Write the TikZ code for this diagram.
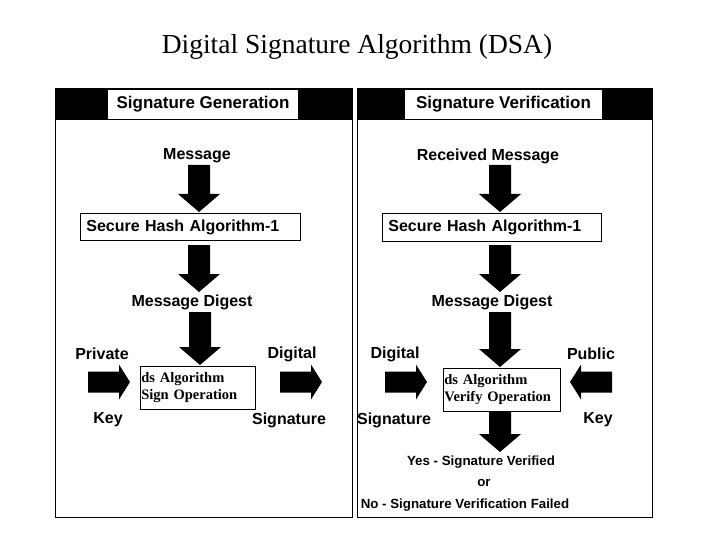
\documentclass[tikz,border=0pt]{standalone}
\usepackage{fontspec}
\setmainfont{Liberation Serif}
\newfontfamily\lab{Liberation Sans}
\begin{document}
\begin{tikzpicture}[x=1pt,y=-1pt,
  lbl/.style={font=\lab\bfseries\fontsize{16}{17}\selectfont, inner sep=0pt},
  box/.style={draw, line width=0.8pt, inner sep=2pt},
  alg/.style={box, font=\bfseries\fontsize{14.5}{17}\selectfont, align=left, anchor=north west, text width=113pt, minimum height=43pt, inner xsep=1pt},
  pics/darrow/.style args={#1}{code={\fill (-11,0) -- (11,0) -- (11,#1-18) -- (21,#1-18) -- (0,#1) -- (-21,#1-18) -- (-11,#1-18) -- cycle;}},
  pics/rarrow/.style={code={\fill (0,-10.5) -- (31,-10.5) -- (31,-17.5) -- (42,0) -- (31,17.5) -- (31,10.5) -- (0,10.5) -- cycle;}}
]
\useasboundingbox (0,0) rectangle (720,540);
\node[font=\fontsize{27.5}{30}\selectfont] (title) at (357,47) {Digital Signature Algorithm (DSA)};
% panels
\draw[line width=0.8pt] (55,88) rectangle (352,517);
\draw[line width=0.8pt] (357,88) rectangle (652,517);
\fill (55,88) rectangle (352,120);
\fill (357,88) rectangle (652,120);
\node[fill=white, minimum width=190pt, minimum height=29pt, lbl, font=\lab\bfseries\fontsize{17}{18}\selectfont] (hg) at (203,104.5) {Signature Generation};
\node[fill=white, minimum width=197pt, minimum height=29pt, lbl, font=\lab\bfseries\fontsize{17}{18}\selectfont] (hv) at (503.5,104.5) {Signature Verification};
% left
\node[lbl] (m1) at (197,156) {Message};
\pic at (199,165) {darrow=47};
\node[box, minimum height=27pt, anchor=north west, text width=208pt, lbl, inner xsep=6pt] (sha1) at (80,213) {Secure Hash Algorithm-1};
\pic at (199,245) {darrow=47};
\node[lbl] (md1) at (192,302) {Message Digest};
\node[lbl] (pk1) at (102,354) {Private};
\node[lbl] (dg1) at (292,354) {Digital};
\pic at (200,312) {darrow=53};
\node[alg] (sign) at (140,366) {ds Algorithm\\Sign Operation};
\pic at (88,382) {rarrow};
\pic at (280,382) {rarrow};
\node[lbl] (k1) at (108,420) {Key};
\node[lbl] (s1) at (289,420) {Signature};
% right
\node[lbl] (m2) at (488,156) {Received Message};
\pic at (500,165) {darrow=47};
\node[box, minimum height=28pt, anchor=north west, text width=207pt, lbl, inner xsep=6pt] (sha2) at (382,213) {Secure Hash Algorithm-1};
\pic at (500,245) {darrow=47};
\node[lbl] (md2) at (492,302) {Message Digest};
\node[lbl] (dg2) at (395,354) {Digital};
\node[lbl] (pk2) at (591,354) {Public};
\pic at (500,312) {darrow=55};
\node[alg, text width=115pt] (ver) at (443,368) {ds Algorithm\\Verify Operation};
\pic at (385,382) {rarrow};
\pic[xscale=-1] at (612,382) {rarrow};
\node[lbl] (s2) at (394,420) {Signature};
\node[lbl] (k2) at (598,420) {Key};
\pic at (500,412) {darrow=40};
\node[lbl, font=\lab\bfseries\fontsize{13.3}{14}\selectfont] (yes) at (481,462) {Yes - Signature Verified};
\node[lbl, font=\lab\bfseries\fontsize{13.3}{14}\selectfont] (or) at (484,483) {or};
\node[lbl, font=\lab\bfseries\fontsize{13.3}{14}\selectfont] (no) at (465,505) {No - Signature Verification Failed};
\end{tikzpicture}
\end{document}
